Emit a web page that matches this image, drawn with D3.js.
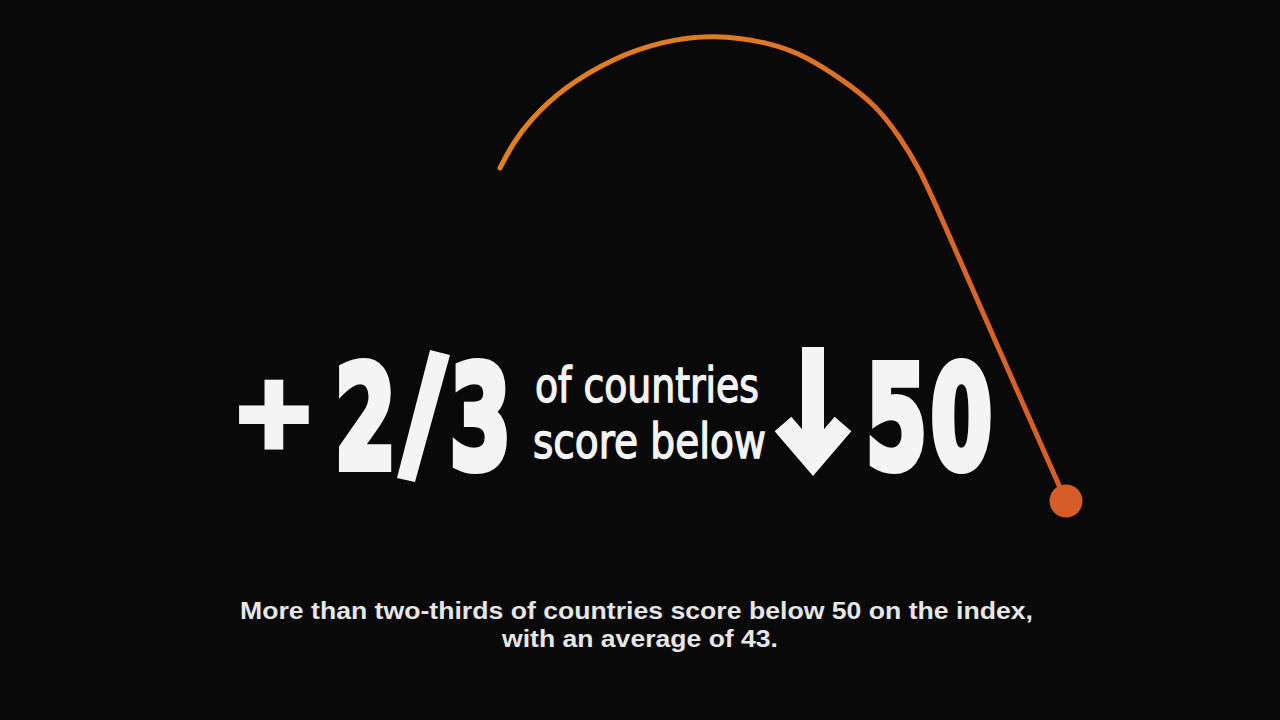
<!DOCTYPE html>
<html>
<head>
<meta charset="utf-8">
<script src="https://cdn.jsdelivr.net/npm/d3@7"></script>
<style>
  html, body { margin: 0; background: #090909; }
  svg { display: block; }
</style>
</head>
<body>
<div id="chart"></div>
<script>
// --- Data: path of the score line ---
const trackX = [500, 513, 530, 563, 613, 663, 713, 773, 807, 840, 875, 900, 920, 935, 1000, 1066];
const trackY = [168, 143, 120, 88, 58, 41, 34, 43, 57, 78, 104, 137, 170, 203, 352, 501];

const shareDigits = ["2", "3"];
const thresholdDigits = ["5", "0"];
const labelLines = ["of countries", "score below"];
const captionLines = [
    "More than two-thirds of countries score below 50 on the index,",
    "with an average of 43."
];

const width = 1280, height = 720;

const x = d3.scaleLinear().domain([0, 1280]).range([0, width]);
const y = d3.scaleLinear().domain([0, 720]).range([0, height]);

const svg = d3.select("#chart").append("svg")
    .attr("width", width)
    .attr("height", height);

svg.append("rect")
    .attr("width", width)
    .attr("height", height)
    .attr("fill", "#090909");

// --- Orange gradient for the line ---
const defs = svg.append("defs");
const grad = defs.append("linearGradient")
    .attr("id", "arcGrad")
    .attr("gradientUnits", "userSpaceOnUse")
    .attr("x1", x(500)).attr("y1", 0)
    .attr("x2", x(1066)).attr("y2", 0);
[["0%", "#e2801f"], ["40%", "#e07a22"], ["75%", "#da682a"], ["100%", "#d65d27"]]
    .forEach(([o, c]) => grad.append("stop").attr("offset", o).attr("stop-color", c));

const points = trackX.map((d, i) => [d, trackY[i]]);

// B-spline smooths out small reading errors in the traced points
const line = d3.line()
    .x(d => x(d[0]))
    .y(d => y(d[1]))
    .curve(d3.curveBasis);

svg.append("path")
    .datum(points)
    .attr("d", line)
    .attr("fill", "none")
    .attr("stroke", "url(#arcGrad)")
    .attr("stroke-width", 5)
    .attr("stroke-linecap", "round");

const last = points[points.length - 1];
svg.append("circle")
    .attr("cx", x(last[0]))
    .attr("cy", y(last[1]))
    .attr("r", 16.5)
    .attr("fill", "#d65d27");

// --- Big headline figures ---
const bigFont = "'Liberation Sans Narrow', 'DejaVu Sans Condensed', 'Arial Narrow', sans-serif";
const sx = 0.69;

function bigDigits(chars, centers, baseline) {
    const t = svg.append("text")
        .attr("transform", `translate(0,${baseline}) scale(${sx},1)`)
        .attr("font-family", bigFont)
        .attr("font-weight", "bold")
        .attr("font-size", 142)
        .attr("fill", "#f4f4f4")
        .attr("stroke", "#f4f4f4")
        .attr("stroke-width", 8)
        .attr("stroke-linejoin", "miter");
    chars.forEach((c, i) => {
        t.append("tspan")
            .attr("x", centers[i] / sx)
            .attr("text-anchor", "middle")
            .text(c);
    });
}

// plus sign
svg.append("text")
    .attr("x", 274)
    .attr("y", 446)
    .attr("text-anchor", "middle")
    .attr("font-family", "'DejaVu Sans', sans-serif")
    .attr("font-weight", "bold")
    .attr("font-size", 100)
    .attr("fill", "#f4f4f4")
    .attr("stroke", "#f4f4f4")
    .attr("stroke-width", 7)
    .text("+");

bigDigits(shareDigits, [365.5, 480.5], 468);

// slanted fraction bar
svg.append("polygon")
    .attr("points", "430,350 450,355 415,482 397,478")
    .attr("fill", "#f4f4f4");

bigDigits(thresholdDigits, [896.5, 961.5], 468);

// down arrow
const arrow = svg.append("g")
    .attr("fill", "none")
    .attr("stroke", "#f4f4f4")
    .attr("stroke-width", 22);
arrow.append("line")
    .attr("x1", 813).attr("y1", 347)
    .attr("x2", 813).attr("y2", 455);
arrow.append("polyline")
    .attr("points", "783,424 813,459 843,424")
    .attr("stroke-linejoin", "miter")
    .attr("stroke-miterlimit", 4);

// two-line label between the figures
const labelBase = [402, 458];
const labelX = [535, 533];
const labelLen = [224, 233];
labelLines.forEach((s, i) => {
    svg.append("text")
        .attr("x", labelX[i])
        .attr("y", labelBase[i])
        .attr("font-family", bigFont)
        .attr("font-size", 48)
        .attr("fill", "#f4f4f4")
        .attr("stroke", "#f4f4f4")
        .attr("stroke-width", 1.3)
        .attr("textLength", labelLen[i])
        .attr("lengthAdjust", "spacingAndGlyphs")
        .text(s);
});

// caption
const capBase = [619, 647];
const capCenter = [636.5, 640];
const capLen = [793, 276];
captionLines.forEach((s, i) => {
    svg.append("text")
        .attr("x", capCenter[i])
        .attr("y", capBase[i])
        .attr("text-anchor", "middle")
        .attr("font-family", "'Liberation Sans', Arial, sans-serif")
        .attr("font-weight", "bold")
        .attr("font-size", 24)
        .attr("fill", "#e6e6e6")
        .attr("textLength", capLen[i])
        .attr("lengthAdjust", "spacingAndGlyphs")
        .text(s);
});
</script>
</body>
</html>
